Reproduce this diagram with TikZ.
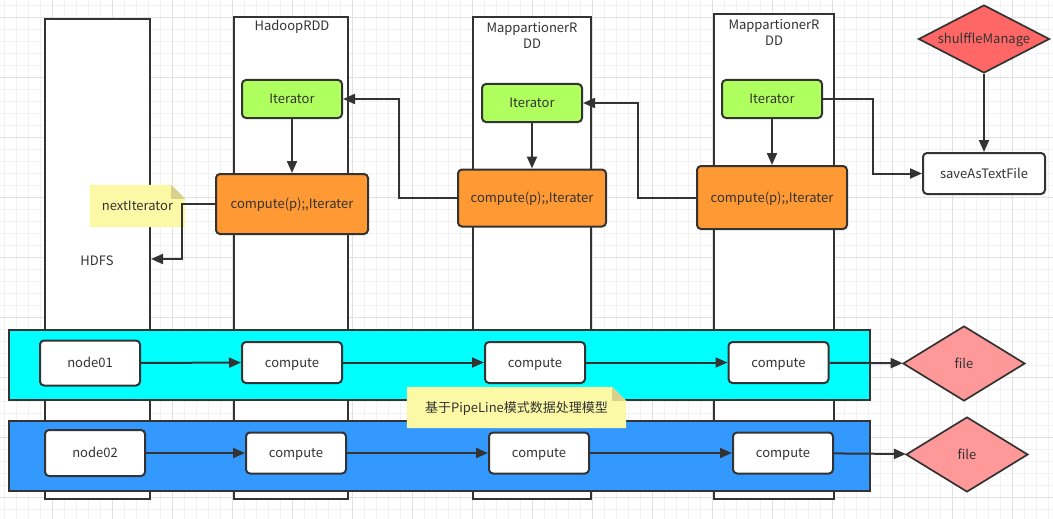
\documentclass[tikz,border=0pt]{standalone}
\usepackage{fontspec}
\setmainfont{Noto Sans CJK SC}
\usetikzlibrary{shapes.geometric,arrows.meta,calc}
\definecolor{ln}{HTML}{333333}
\definecolor{gridminor}{HTML}{F2F2F2}
\definecolor{gridmajor}{HTML}{E0E0E0}
\definecolor{itgreen}{HTML}{AFFF5F}
\definecolor{cporange}{HTML}{FF9933}
\definecolor{shufred}{HTML}{FF6666}
\definecolor{filepink}{HTML}{FF9999}
\definecolor{bandcyan}{HTML}{00FFFF}
\definecolor{bandblue}{HTML}{3399FF}
\definecolor{notefill}{HTML}{FCF9A6}
\definecolor{notefold}{HTML}{D8D08C}
\begin{document}
\begin{tikzpicture}[x=1pt,y=-1pt,
  font=\fontsize{13}{15}\selectfont, text=ln,
  tc/.style={text height=11pt, text depth=1.5pt},
  col/.style={draw=ln, line width=2pt, fill=white},
  band/.style={draw=ln, line width=2pt},
  itbox/.style={tc, draw=ln, line width=2pt, fill=itgreen, rounded corners=4pt, minimum width=100pt, minimum height=38pt},
  cpbox/.style={tc, draw=ln, line width=2pt, fill=cporange, rounded corners=4pt},
  wbox/.style={tc, draw=ln, line width=2pt, fill=white, rounded corners=4pt, minimum width=100pt, minimum height=41pt},
  dia/.style={tc, diamond, draw=ln, line width=1.7pt, inner sep=0pt, shape aspect=1.8},
  notebox/.style={inner sep=0pt},
  arr/.style={draw=ln, line width=2pt, -{Triangle[length=12pt,width=10pt]}},
  lbl/.style={inner sep=0pt, align=center}
]
\useasboundingbox (0,0) rectangle (1053,519);
\fill[white] (0,0) rectangle (1053,519);
% grid
\foreach \x in {4,16,...,1052} \draw[gridminor, line width=0.6pt] (\x,0) -- (\x,519);
\foreach \y in {5,17,...,519} \draw[gridminor, line width=0.6pt] (0,\y) -- (1053,\y);
\foreach \x in {52,112,...,1052} \draw[gridmajor, line width=0.7pt] (\x,0) -- (\x,519);
\foreach \y in {17,77,...,519} \draw[gridmajor, line width=0.7pt] (0,\y) -- (1053,\y);

% columns
\node[col, minimum width=105pt, minimum height=480pt] (hdfs) at (97.5,259) {};
\node[col, minimum width=114pt, minimum height=482pt] (colA) at (291,258) {};
\node[col, minimum width=118pt, minimum height=482pt] (colB) at (532,258) {};
\node[col, minimum width=120pt, minimum height=485pt] (colC) at (774,256.5) {};
\node[lbl] (hdfslbl) at (97,261) {HDFS};
\node[lbl] (lblA) at (292,27) {HadoopRDD};
\node[lbl, font=\fontsize{13}{16}\selectfont] (lblB) at (532,35) {MappartionerR\\DD};
\node[lbl, font=\fontsize{13}{16}\selectfont] (lblC) at (774,32) {MappartionerR\\DD};

% bands
\node[band, fill=bandcyan, minimum width=861pt, minimum height=70pt] (band1) at (439,365) {};
\node[band, fill=bandblue, minimum width=861pt, minimum height=70pt] (band2) at (439,456) {};

% top row
\node[itbox] (it1) at (292,99) {Iterator};
\node[itbox] (it2) at (532,103) {Iterator};
\node[itbox] (it3) at (772,99) {Iterator};
\node[cpbox, minimum width=152pt, minimum height=60pt] (cp1) at (292,204) {compute(p);,Iterater};
\node[cpbox, minimum width=148pt, minimum height=57pt] (cp2) at (532,198) {compute(p);,Iterater};
\node[cpbox, minimum width=150pt, minimum height=63pt] (cp3) at (772,197.5) {compute(p);,Iterater};
\node[wbox, minimum width=122pt] (save) at (984,173.5) {saveAsTextFile};
\node[dia, fill=shufred, minimum width=131pt, minimum height=68pt] (shuf) at (984,39) {shulffleManage};

% nextIterator note
\node[notebox, minimum width=95pt, minimum height=42pt] (note1) at (137.5,206) {};
\fill[notefill] (note1.north west) -- ($(note1.north east)+(-14,0)$) -- ($(note1.north east)+(0,14)$) -- (note1.south east) -- (note1.south west) -- cycle;
\fill[notefold] ($(note1.north east)+(-14,0)$) -- ($(note1.north east)+(0,14)$) -- ($(note1.north east)+(-14,14)$) -- cycle;
\node[lbl, tc] (note1t) at (note1) {nextIterator};

% connectors top
\draw[arr] (it1) -- (cp1);
\draw[arr] (it2) -- (cp2);
\draw[arr] (it3) -- (cp3);
\draw[arr] (cp2.west) -- ++(-58,0) |- (it1.east);
\draw[arr] (cp3.west) -- ++(-58,0) |- (it2.east);
\draw[arr] (it3.east) -- ++(50,0) |- (save.west);
\draw[arr] (shuf.south) -- (save.north);
\draw[arr] (cp1.west) -- ++(-33,0) |- (hdfs.east);

% pipeline rows
\node[wbox, minimum height=45pt] (n1) at (90,363) {node01};
\node[wbox] (c11) at (292,362.5) {compute};
\node[wbox] (c12) at (535,362.5) {compute};
\node[wbox] (c13) at (778.5,362.5) {compute};
\node[dia, fill=filepink, minimum width=122pt, minimum height=75pt] (f1) at (964,363.5) {file};

\node[wbox, minimum height=46pt] (n2) at (95,453) {node02};
\node[wbox] (c21) at (296,453) {compute};
\node[wbox] (c22) at (539,453) {compute};
\node[wbox] (c23) at (783,453) {compute};
\node[dia, fill=filepink, minimum width=122pt, minimum height=75pt] (f2) at (967,454.5) {file};

\draw[arr] (n1) -- (c11);
\draw[arr] (c11) -- (c12);
\draw[arr] (c12) -- (c13);
\draw[arr] (c13) -- (f1);
\draw[arr] (n2) -- (c21);
\draw[arr] (c21) -- (c22);
\draw[arr] (c22) -- (c23);
\draw[arr] (c23) -- (f2);

% pipeline note
\node[notebox, minimum width=219pt, minimum height=41pt] (note2) at (516.5,407.5) {};
\fill[notefill] (note2.north west) -- ($(note2.north east)+(-14,0)$) -- ($(note2.north east)+(0,14)$) -- (note2.south east) -- (note2.south west) -- cycle;
\fill[notefold] ($(note2.north east)+(-14,0)$) -- ($(note2.north east)+(0,14)$) -- ($(note2.north east)+(-14,14)$) -- cycle;
\node[lbl, tc] (note2t) at (note2) {基于PipeLine模式数据处理模型};
\end{tikzpicture}
\end{document}
